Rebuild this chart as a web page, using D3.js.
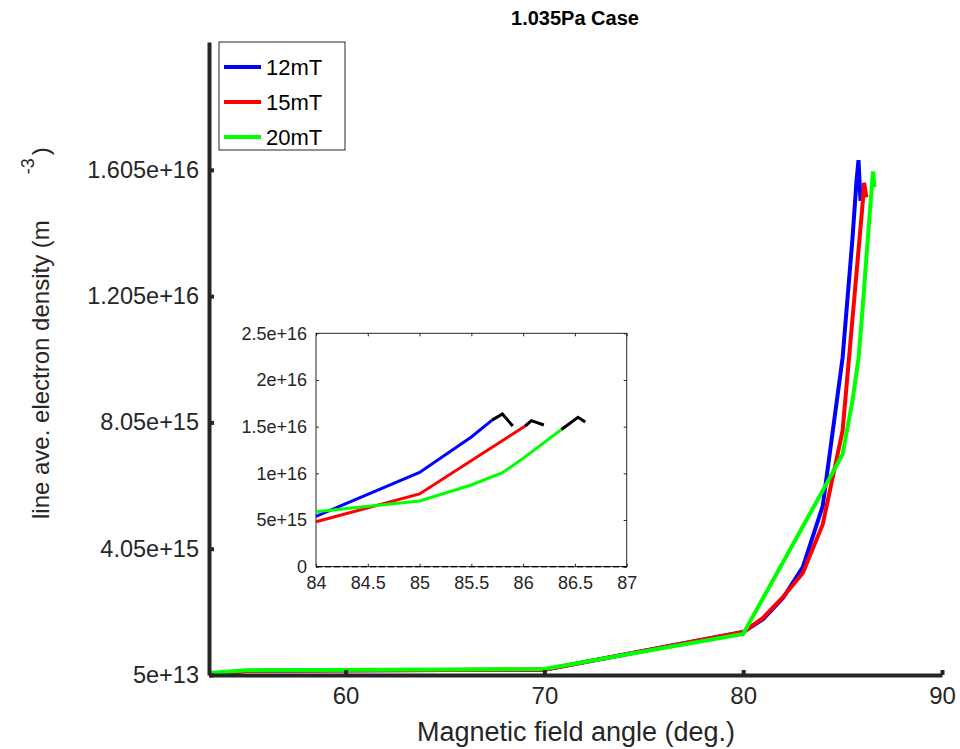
<!DOCTYPE html>
<html>
<head>
<meta charset="utf-8">
<script src="https://cdn.jsdelivr.net/npm/d3@7"></script>
<style>
    body { margin: 0; background: #fff; }
    text { font-family: "Liberation Sans", Arial, sans-serif; fill: #262626; }
</style>
</head>
<body>
<div id="chart"></div>
<script>
// series
const angles12 = [53.13, 55, 70, 80, 81, 82, 83, 84, 85, 85.5, 85.7, 85.8, 85.9];
const dens12 = [8e13, 1.8e14, 2.2e14, 1.41e15, 1.82e15, 2.49e15, 3.47e15, 5.4e15, 1.01e16, 1.39e16, 1.57e16, 1.636e16, 1.507e16];

const angles15 = [53.13, 55, 70, 80, 81, 82, 83, 84, 85, 86.02, 86.08, 86.2];
const dens15 = [8e13, 1.8e14, 2.2e14, 1.41e15, 1.86e15, 2.52e15, 3.28e15, 4.82e15, 7.79e15, 1.507e16, 1.564e16, 1.518e16];

const angles20 = [53.13, 55, 70, 80, 84, 85, 85.5, 85.8, 86, 86.37, 86.53, 86.6];
const dens20 = [1.1e14, 2.0e14, 2.4e14, 1.35e15, 5.89e15, 7.04e15, 8.75e15, 1.007e16, 1.16e16, 1.47e16, 1.6e16, 1.55e16];

const seriesNames = ["12mT", "15mT", "20mT"];
const seriesColors = ["#0000ff", "#ff0000", "#00ff00"];

const xTicks = [60, 70, 80, 90];
const yTicks = [5e13, 4.05e15, 8.05e15, 1.205e16, 1.605e16];
const yTickLabels = ["5e+13", "4.05e+15", "8.05e+15", "1.205e+16", "1.605e+16"];

const insetXTicks = [84, 84.5, 85, 85.5, 86, 86.5, 87];
const insetYTicks = [0, 5e15, 1e16, 1.5e16, 2e16, 2.5e16];
const insetYLabels = ["0", "5e+15", "1e+16", "1.5e+16", "2e+16", "2.5e+16"];
const tailCount = 3; // last points drawn black in the inset

const series = [
    { name: seriesNames[0], color: seriesColors[0], pts: angles12.map((a, i) => ({ x: a, y: dens12[i] })) },
    { name: seriesNames[1], color: seriesColors[1], pts: angles15.map((a, i) => ({ x: a, y: dens15[i] })) },
    { name: seriesNames[2], color: seriesColors[2], pts: angles20.map((a, i) => ({ x: a, y: dens20[i] })) }
];

const W = 960, H = 749;
const axisColor = "#262626";
const font = "Liberation Sans, Arial, sans-serif";

const svg = d3.select("#chart").append("svg")
    .attr("width", W)
    .attr("height", H);

// main axes
const x = d3.scaleLinear().domain([53.13, 90]).range([209, 942]);
const y = d3.scaleLinear().domain([5e13, 2.01e16]).range([675, 42]);

const line = d3.line()
    .x(d => x(d.x))
    .y(d => y(d.y));

const g = svg.append("g");

series.forEach(s => {
    g.append("path")
        .datum(s.pts)
        .attr("d", line)
        .style("fill", "none")
        .style("stroke", s.color)
        .style("stroke-width", 4)
        .style("stroke-linejoin", "miter");
});

const xAxis = svg.append("g")
    .attr("transform", `translate(0,${y.range()[0]})`)
    .call(d3.axisBottom(x).tickValues(xTicks).tickSizeInner(-5).tickSizeOuter(0).tickPadding(12));
xAxis.select(".domain").attr("stroke", axisColor).attr("stroke-width", 4);
xAxis.selectAll(".tick line").attr("stroke", axisColor).attr("stroke-width", 4);
xAxis.selectAll(".tick text")
    .attr("font-size", 24)
    .attr("fill", axisColor)
    .attr("font-family", font);

const yAxis = svg.append("g")
    .attr("transform", `translate(${x.range()[0]},0)`)
    .call(d3.axisLeft(y).tickValues(yTicks).tickFormat((d, i) => yTickLabels[i])
        .tickSizeInner(-5).tickSizeOuter(0).tickPadding(10));
yAxis.select(".domain").attr("stroke", axisColor).attr("stroke-width", 4);
yAxis.selectAll(".tick line").attr("stroke", axisColor).attr("stroke-width", 4);
yAxis.selectAll(".tick text")
    .attr("font-size", 23.5)
    .attr("fill", axisColor)
    .attr("font-family", font);

// title and labels
svg.append("text")
    .attr("x", 575)
    .attr("y", 25)
    .attr("text-anchor", "middle")
    .attr("font-size", 20)
    .attr("font-weight", "bold")
    .style("fill", "#000")
    .text("1.035Pa Case");

svg.append("text")
    .attr("x", 576)
    .attr("y", 741)
    .attr("text-anchor", "middle")
    .attr("font-size", 27)
    .text("Magnetic field angle (deg.)");

const yLabel = svg.append("text")
    .attr("transform", "translate(49,519) rotate(-90)")
    .attr("font-size", 24);
yLabel.append("tspan").text("line ave. electron density (m");
yLabel.append("tspan").attr("dx", 46).attr("dy", -15).attr("font-size", 18).text("-3");
yLabel.append("tspan").attr("dx", 3).attr("dy", 15).text(")");

// legend
const legend = svg.append("g").attr("transform", "translate(219,42)");
legend.append("rect")
    .attr("width", 126)
    .attr("height", 108)
    .style("fill", "#fff")
    .style("stroke", axisColor)
    .style("stroke-width", 1);
series.forEach((s, i) => {
    const cy = 25 + i * 35;
    legend.append("line")
        .attr("x1", 5).attr("x2", 42)
        .attr("y1", cy).attr("y2", cy)
        .style("stroke", s.color)
        .style("stroke-width", 4);
    legend.append("text")
        .attr("x", 47)
        .attr("y", cy + 8)
        .attr("font-size", 22)
        .style("fill", "#000")
        .text(s.name);
});

// inset
const ix = d3.scaleLinear().domain([84, 87]).range([316, 626.7]);
const iy = d3.scaleLinear().domain([0, 2.5e16]).range([566.7, 333.3]);

const inset = svg.append("g");
inset.append("rect")
    .attr("x", ix.range()[0])
    .attr("y", iy.range()[1])
    .attr("width", ix.range()[1] - ix.range()[0])
    .attr("height", iy.range()[0] - iy.range()[1])
    .style("fill", "#fff")
    .style("stroke", axisColor)
    .style("stroke-width", 1);

inset.append("g")
    .attr("transform", `translate(0,${iy.range()[0]})`)
    .call(d3.axisBottom(ix).tickValues(insetXTicks).tickFormat(d3.format("")).tickSizeInner(-3).tickSizeOuter(0).tickPadding(10));
inset.append("g")
    .attr("transform", `translate(${ix.range()[0]},0)`)
    .call(d3.axisLeft(iy).tickValues(insetYTicks).tickFormat((d, i) => insetYLabels[i])
        .tickSizeInner(-3).tickSizeOuter(0).tickPadding(9));
inset.append("g")
    .attr("transform", `translate(0,${iy.range()[1]})`)
    .call(d3.axisTop(ix).tickValues(insetXTicks).tickFormat("").tickSizeInner(-3).tickSizeOuter(0));
inset.append("g")
    .attr("transform", `translate(${ix.range()[1]},0)`)
    .call(d3.axisRight(iy).tickValues(insetYTicks).tickFormat("").tickSizeInner(-3).tickSizeOuter(0));
inset.selectAll(".domain").remove();
inset.selectAll(".tick line").attr("stroke", axisColor);
inset.selectAll(".tick text")
    .attr("font-size", 18)
    .attr("fill", axisColor)
    .attr("font-family", font);

// dashed zero line
inset.append("line")
    .attr("x1", ix.range()[0]).attr("x2", ix.range()[1])
    .attr("y1", iy(0)).attr("y2", iy(0))
    .style("stroke", "#000")
    .style("stroke-width", 1.2)
    .style("stroke-dasharray", "6,3");

const iline = d3.line()
    .x(d => ix(d.x))
    .y(d => iy(d.y));

series.forEach(s => {
    const pts = s.pts.filter(d => d.x >= 84);
    const cut = pts.length - tailCount;
    inset.append("path")
        .datum(pts.slice(0, cut + 1))
        .attr("d", iline)
        .style("fill", "none")
        .style("stroke", s.color)
        .style("stroke-width", 3);
    inset.append("path")
        .datum(pts.slice(cut))
        .attr("d", iline)
        .style("fill", "none")
        .style("stroke", "#000")
        .style("stroke-width", 3);
});
</script>
</body>
</html>
